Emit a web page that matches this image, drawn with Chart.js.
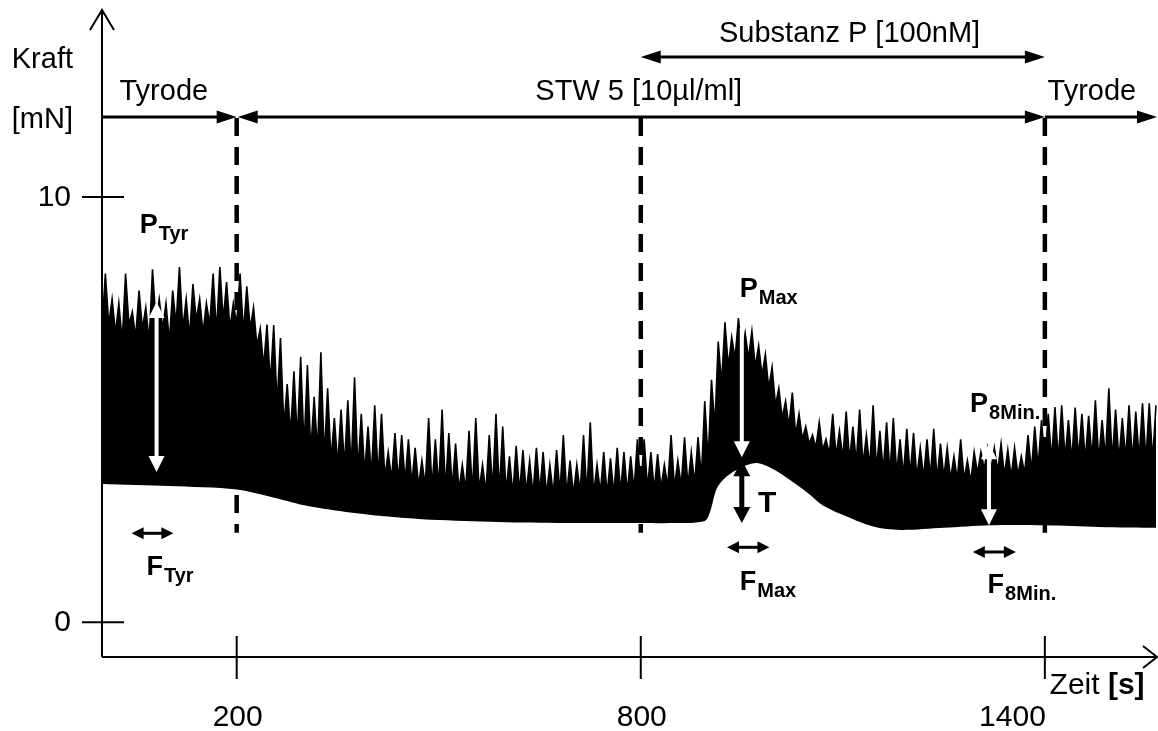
<!DOCTYPE html>
<html>
<head>
<meta charset="utf-8">
<script src="https://cdn.jsdelivr.net/npm/chart.js@4.4.1/dist/chart.umd.min.js"></script>
<style>
  html, body { margin: 0; padding: 0; background: #fff; }
  #wrap { width: 1158px; height: 731px; }
</style>
</head>
<body>
<div id="wrap"><canvas id="myChart" width="1158" height="731"></canvas></div>
<script>
const sampleStep = 10;
const traceBase = [
  6.9, 7.0, 6.8, 6.6, 7.0, 6.7, 6.9, 6.6, 7.1, 6.9, 6.6, 7.0, 6.9, 6.7, 7.1, 6.8, 7.0, 6.8, 7.1, 6.9, 7.0, 6.8, 6.9, 6.5,
  6.0, 5.6, 5.1, 4.6, 4.4, 4.3, 4.1, 4.0, 4.0, 3.85, 3.8, 3.7, 3.65, 3.6, 3.55, 3.5,
  3.45, 3.4, 3.4, 3.35, 3.3, 3.3, 3.25, 3.2, 3.2, 3.15, 3.15, 3.1, 3.15, 3.1, 3.1, 3.05, 3.1, 3.05, 3.1, 3.05,
  3.05, 3.0, 3.05, 3.05, 3.0, 3.05, 3.0, 3.0, 3.05, 3.0, 3.0, 3.05, 3.0, 3.0, 3.05, 3.0, 3.0, 3.05, 3.05, 3.1,
  3.1, 3.15, 3.1, 3.15, 3.2, 3.15, 3.2, 3.2, 3.25, 3.4,
  3.8, 4.6, 5.6, 6.0, 6.2, 6.3, 6.2, 6.0, 5.8, 5.5, 5.1,
  4.8, 4.6, 4.4, 4.3, 4.2, 4.1, 4.05, 3.95, 3.9, 3.85, 3.8, 3.75, 3.7, 3.65, 3.6, 3.55, 3.5, 3.5, 3.45,
  3.45, 3.4, 3.4, 3.4, 3.35, 3.4, 3.35, 3.35, 3.35, 3.3, 3.5, 3.6, 3.6, 3.55, 3.45, 3.4, 3.45, 3.5, 3.55, 3.65,
  3.7, 3.8, 3.8, 3.85, 3.8, 3.85, 3.8, 3.85, 3.8, 3.85, 3.8, 3.8, 3.85, 3.8, 3.85, 3.8, 3.8
];
const tracePeaks = [
  8.2, 7.6, 7.5, 8.2, 7.3, 7.8, 7.4, 8.3, 7.6, 7.5, 7.8, 8.35, 7.6, 7.95, 7.6, 7.5, 8.2, 8.35, 8.0, 7.5,
  8.2, 7.9, 7.4, 6.9, 7.0, 6.99, 6.68, 5.6, 5.9, 6.24, 6.05, 5.3, 6.35, 5.5, 4.8, 5.0, 5.22, 5.76, 4.9, 4.6,
  5.1, 4.9, 4.0, 4.45, 4.4, 4.3, 4.1, 3.8, 4.8, 4.3, 5.0, 4.45, 4.2, 3.7, 4.5, 4.8, 3.7, 4.4, 4.9, 4.6,
  3.9, 4.15, 4.05, 3.8, 4.1, 4.0, 3.7, 4.05, 4.4, 3.8, 3.7, 4.4, 4.7, 3.7, 4.0, 3.85, 4.1, 4.0, 3.9, 4.3,
  4.3, 4.0, 3.95, 3.7, 4.4, 3.8, 4.35, 4.0, 4.35, 5.2,
  5.7, 6.6, 7.05, 6.7, 7.15, 6.8, 6.85, 6.5, 6.3, 6.0, 5.5, 5.2, 5.4, 4.9, 4.6, 4.4, 4.7, 4.3, 4.9, 4.5,
  4.95, 4.6, 5.0, 4.4, 5.1, 4.5, 4.7, 4.8, 4.3, 4.55,
  4.45, 4.1, 4.3, 4.55, 4.2, 4.1, 3.9, 4.3, 3.8, 4.0, 4.0, 4.1, 4.1, 4.2, 4.05, 4.1, 3.9, 4.4, 4.6, 4.75,
  4.9, 5.06, 5.1, 4.75, 5.05, 4.9, 4.85, 5.22, 4.75, 5.5, 5.0, 4.8, 5.1, 4.95, 5.15, 5.15, 5.1
];
// untere Huellkurve (Tonus)
const tonusTime  = [0, 100, 200, 250, 300, 350, 400, 450, 500, 550, 600, 650, 700, 750, 800, 850, 895, 903, 913, 927,
                    947, 972, 996, 1021, 1047, 1070, 1096, 1145, 1185, 1250, 1318, 1400, 1480, 1568];
const tonusForce = [3.25, 3.2, 3.12, 2.95, 2.75, 2.62, 2.52, 2.45, 2.4, 2.37, 2.35, 2.34, 2.33, 2.33, 2.33, 2.33, 2.38, 2.6, 3.15, 3.42,
                    3.62, 3.74, 3.6, 3.35, 3.05, 2.75, 2.55, 2.25, 2.17, 2.22, 2.28, 2.28, 2.24, 2.22];

const xTicks = [200, 800, 1400];
const yTicks = [0, 10];
const phaseBounds = [200, 800, 1400];

const FONT = "'Liberation Sans', Arial, sans-serif";

let tracePoints = [];
traceBase.forEach(function (v, i) {
    tracePoints.push({ x: i * sampleStep, y: v });
    tracePoints.push({ x: i * sampleStep + sampleStep / 2, y: tracePeaks[i] });
});
let tonusPoints = tonusTime.map(function (t, i) { return { x: t, y: tonusForce[i] }; });

function head(ctx, x, y, ang, len, half, color) {
    let c = Math.cos(ang), s = Math.sin(ang);
    ctx.fillStyle = color;
    ctx.beginPath();
    ctx.moveTo(x, y);
    ctx.lineTo(x - len * c - half * s, y - len * s + half * c);
    ctx.lineTo(x - len * c + half * s, y - len * s - half * c);
    ctx.closePath();
    ctx.fill();
}

function arrow(ctx, x1, y1, x2, y2, color, width, len, half, both) {
    let ang = Math.atan2(y2 - y1, x2 - x1);
    let c = Math.cos(ang), s = Math.sin(ang);
    let sx = x1, sy = y1;
    if (both) { sx += c * len * 0.7; sy += s * len * 0.7; }
    ctx.strokeStyle = color;
    ctx.lineWidth = width;
    ctx.beginPath();
    ctx.moveTo(sx, sy);
    ctx.lineTo(x2 - c * len * 0.7, y2 - s * len * 0.7);
    ctx.stroke();
    head(ctx, x2, y2, ang, len, half, color);
    if (both) head(ctx, x1, y1, ang + Math.PI, len, half, color);
}

function subLabel(ctx, main, sub, x, y) {
    ctx.fillStyle = '#000';
    ctx.textAlign = 'left';
    ctx.textBaseline = 'alphabetic';
    ctx.font = 'bold 27px ' + FONT;
    ctx.fillText(main, x, y);
    let w = ctx.measureText(main).width;
    ctx.font = 'bold 20px ' + FONT;
    ctx.fillText(sub, x + w + 1, y + 7);
}

// P / F / T Markierungen (Datenkoordinaten: s, mN)
const labels = [
    { main: 'P', sub: 'Tyr', x: 56, y: 9.15 },
    { main: 'F', sub: 'Tyr', x: 66, y: 1.1 },
    { main: 'P', sub: 'Max', x: 947, y: 7.65 },
    { main: 'F', sub: 'Max', x: 947, y: 0.75 },
    { main: 'P', sub: '8Min.', x: 1289, y: 4.94 },
    { main: 'F', sub: '8Min.', x: 1315, y: 0.68 }
];
const whiteArrows = [
    { x: 81, from: 7.53, to: 3.53, both: true },
    { x: 950, from: 6.92, to: 3.88, both: false },
    { x: 1317, from: 4.21, to: 2.28, both: true }
];
const freqArrows = [
    { from: 44, to: 106, y: 2.09 },
    { from: 928, to: 991, y: 1.76 },
    { from: 1293, to: 1357, y: 1.65 }
];

const annotPlugin = {
    id: 'annot',
    afterDatasetsDraw: function (chart) {
        let ctx = chart.ctx;
        let xs = chart.scales.x, ys = chart.scales.y;
        let px = function (v) { return xs.getPixelForValue(v); };
        let py = function (v) { return ys.getPixelForValue(v); };
        let area = chart.chartArea;
        ctx.save();

        // Achsen
        let x0 = px(0), yb = area.bottom;
        ctx.strokeStyle = '#000';
        ctx.lineWidth = 2;
        ctx.beginPath();
        ctx.moveTo(x0, yb); ctx.lineTo(x0, area.top - 5);
        ctx.moveTo(x0 - 12, area.top + 15); ctx.lineTo(x0, area.top - 5); ctx.lineTo(x0 + 12, area.top + 15);
        ctx.moveTo(x0, yb); ctx.lineTo(area.right - 1, yb);
        ctx.moveTo(area.right - 15, yb - 11); ctx.lineTo(area.right - 1, yb); ctx.lineTo(area.right - 15, yb + 11);
        ctx.stroke();

        ctx.font = '30px ' + FONT;
        ctx.fillStyle = '#000';
        yTicks.forEach(function (t) {
            ctx.beginPath();
            ctx.moveTo(x0 - 20, py(t)); ctx.lineTo(x0 + 22, py(t));
            ctx.stroke();
            ctx.textAlign = 'right';
            ctx.textBaseline = 'middle';
            ctx.fillText(String(t), x0 - 31, py(t) + 1);
        });
        xTicks.forEach(function (t, i) {
            ctx.beginPath();
            ctx.moveTo(px(t), yb - 21); ctx.lineTo(px(t), yb + 22);
            ctx.stroke();
            ctx.textBaseline = 'alphabetic';
            if (i === xTicks.length - 1) {
                ctx.textAlign = 'right';
                ctx.fillText(String(t), px(t) + 1, yb + 69);
            } else {
                ctx.textAlign = 'center';
                ctx.fillText(String(t), px(t) + 1, yb + 69);
            }
        });

        ctx.font = '29px ' + FONT;
        ctx.textAlign = 'left';
        ctx.textBaseline = 'alphabetic';
        ctx.fillText('Kraft', px(-134), py(13.04));
        ctx.fillText('[mN]', px(-134), py(11.62));
        ctx.font = '30px ' + FONT;
        ctx.fillText('Zeit ', px(1407), py(-1.69));
        let zw = ctx.measureText('Zeit ').width;
        ctx.font = 'bold 30px ' + FONT;
        ctx.fillText('[s]', px(1407) + zw, py(-1.69));

        // Versuchsphasen
        ctx.setLineDash([18, 11]);
        ctx.lineWidth = 4.5;
        phaseBounds.forEach(function (b) {
            ctx.beginPath();
            ctx.moveTo(px(b), py(11.88) + 1); ctx.lineTo(px(b), py(2.1));
            ctx.stroke();
        });
        ctx.setLineDash([]);

        arrow(ctx, px(0), py(11.88), px(phaseBounds[0]), py(11.88), '#000', 3, 20, 6.5, false);
        arrow(ctx, px(phaseBounds[0]) + 1, py(11.88), px(phaseBounds[2]), py(11.88), '#000', 3, 20, 6.5, true);
        arrow(ctx, px(phaseBounds[2]), py(11.88), area.right - 1, py(11.88), '#000', 3, 20, 6.5, false);
        arrow(ctx, px(phaseBounds[1]), py(13.29), px(phaseBounds[2]), py(13.29), '#000', 3, 20, 6.5, true);

        ctx.fillStyle = '#000';
        ctx.font = '29px ' + FONT;
        ctx.textAlign = 'left';
        ctx.fillText('Tyrode', px(26), py(12.28));
        ctx.fillText('Tyrode', px(1404), py(12.28));
        ctx.textAlign = 'center';
        ctx.fillText('STW 5 [10µl/ml]', px(797), py(12.28));
        ctx.fillText('Substanz P [100nM]', px(1110), py(13.65));

        // Amplituden- und Frequenzmarken
        whiteArrows.forEach(function (a) {
            arrow(ctx, px(a.x), py(a.from), px(a.x), py(a.to), '#fff', 4, 16, 8, a.both);
        });
        arrow(ctx, px(950), py(3.81), px(950), py(2.33), '#000', 5, 16, 8.5, true);
        freqArrows.forEach(function (a) {
            arrow(ctx, px(a.from), py(a.y), px(a.to), py(a.y), '#000', 3, 12, 6, true);
        });

        labels.forEach(function (l) { subLabel(ctx, l.main, l.sub, px(l.x), py(l.y)); });
        ctx.font = 'bold 30px ' + FONT;
        ctx.textAlign = 'left';
        ctx.fillText('T', px(974), py(2.59));

        ctx.restore();
    }
};

let ctx = document.getElementById('myChart').getContext('2d');
let myChart = new Chart(ctx, {
    type: 'line',
    data: {
        datasets: [{
            label: 'Tonus',
            data: tonusPoints,
            fill: 'start',
            backgroundColor: '#fff',
            borderColor: '#fff',
            borderWidth: 0,
            pointRadius: 0,
            tension: 0.3
        }, {
            label: 'Kraft',
            data: tracePoints,
            fill: 'start',
            backgroundColor: '#000',
            borderColor: '#000',
            borderWidth: 1.6,
            pointRadius: 0,
            tension: 0
        }]
    },
    options: {
        responsive: false,
        animation: false,
        devicePixelRatio: 1,
        layout: { padding: { left: 102, right: 0, top: 15, bottom: 74 } },
        scales: {
            x: { type: 'linear', min: 0, max: 1568, display: false },
            y: { type: 'linear', min: -0.82, max: 14.28, display: false }
        },
        plugins: {
            legend: { display: false },
            tooltip: { enabled: false }
        }
    },
    plugins: [annotPlugin]
});
</script>
</body>
</html>
